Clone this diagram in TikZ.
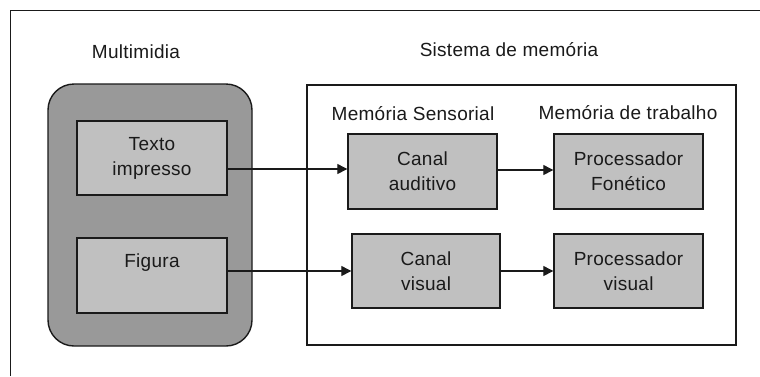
\documentclass[tikz,border=0pt]{standalone}
\usepackage{fontspec}
\setmainfont[LetterSpace=1.5]{Liberation Sans}
\usetikzlibrary{arrows.meta}
\definecolor{darkfill}{HTML}{999999}
\definecolor{boxfill}{HTML}{C0C0C0}
\definecolor{ink}{HTML}{1A1A1A}
\begin{document}
\begin{tikzpicture}[x=1pt,y=-1pt,
  every node/.style={font=\fontsize{19}{25}\selectfont, text=ink},
  itembox/.style={draw=ink, line width=1.4pt, fill=boxfill, align=center,
    inner sep=0pt, minimum width=149pt, minimum height=75pt},
  label/.style={anchor=base},
  link/.style={draw=ink, line width=1.3pt, -{Triangle[length=10pt,width=10pt]}}]
  \useasboundingbox (0,0) rectangle (760,376);
  \fill[white] (0,0) rectangle (760,376);
  % outer frame (runs off the page at right and bottom)
  \draw[ink, line width=1.4pt] (10.5,376) -- (10.5,10.5) -- (760,10.5);

  % multimedia group
  \node[label] (mmlabel) at (136,58) {Multimidia};
  \node[draw=ink, line width=1.4pt, fill=darkfill, rounded corners=26pt,
        minimum width=204pt, minimum height=262pt, inner sep=0pt] (mm) at (150,215) {};
  \node[itembox, minimum width=150pt, minimum height=74pt] (texto) at (152,158) {Texto\\impresso};
  \node[itembox, minimum width=150pt] (figura) at (152,275.5) {Figura\\\phantom{Fg}};

  % memory system group
  \node[label] (smlabel) at (509,56) {Sistema de memória};
  \node[draw=ink, line width=1.4pt, fill=white, minimum width=429pt,
        minimum height=260pt, inner sep=0pt] (mem) at (521.5,215) {};
  \node[label] (sens) at (413,120) {Memória Sensorial};
  \node[label] (trab) at (628,119) {Memória de trabalho};

  \node[itembox] (auditivo) at (422.5,171.5) {Canal\\auditivo};
  \node[itembox, minimum width=148pt, minimum height=74pt] (cvisual) at (426,271) {Canal\\visual};
  \node[itembox] (fonetico) at (628.5,171.5) {Processador\\Fonético};
  \node[itembox, minimum height=74pt] (pvisual) at (628.5,271) {Processador\\visual};

  % connectors
  \draw[link] (texto.east |- 0,169) -- (auditivo.west |- 0,169);
  \draw[link] (figura.east |- cvisual.west) -- (cvisual.west);
  \draw[link] (auditivo.east |- 0,170) -- (fonetico.west |- 0,170);
  \draw[link] (cvisual.east) -- (pvisual.west);
\end{tikzpicture}
\end{document}
